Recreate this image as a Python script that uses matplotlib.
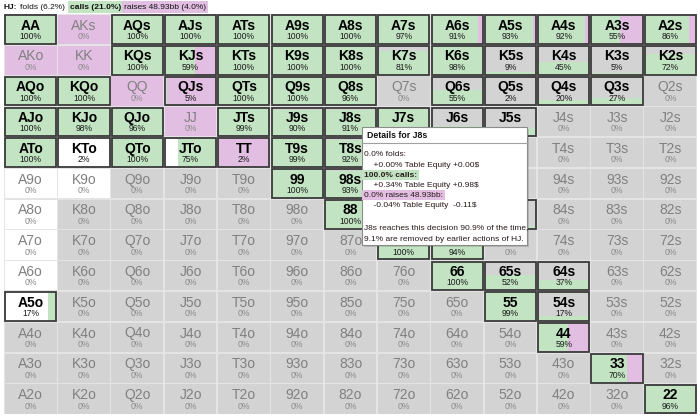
import matplotlib
matplotlib.use("Agg")
import matplotlib.pyplot as plt
from matplotlib.patches import Rectangle

plt.rcParams['font.family'] = ['Liberation Sans', 'DejaVu Sans']

ranks = list("AKQJT98765432")

# shown call percentage per hand (row = first rank, col = second rank)
call_pct = [
    [100, 0, 100, 100, 100, 100, 100, 97, 91, 93, 92, 55, 86],
    [0, 0, 100, 59, 100, 100, 100, 81, 98, 9, 45, 5, 72],
    [100, 100, 0, 5, 100, 100, 96, 0, 55, 2, 20, 27, 0],
    [100, 98, 96, 0, 99, 90, 91, 95, 37, 30, 0, 0, 0],
    [100, 2, 100, 75, 2, 99, 92, 85, 20, 0, 0, 0, 0],
    [0, 0, 0, 0, 0, 100, 93, 90, 30, 0, 0, 0, 0],
    [0, 0, 0, 0, 0, 0, 100, 95, 60, 10, 0, 0, 0],
    [0, 0, 0, 0, 0, 0, 0, 100, 94, 0, 0, 0, 0],
    [0, 0, 0, 0, 0, 0, 0, 0, 100, 52, 37, 0, 0],
    [17, 0, 0, 0, 0, 0, 0, 0, 0, 99, 17, 0, 0],
    [0, 0, 0, 0, 0, 0, 0, 0, 0, 0, 59, 0, 0],
    [0, 0, 0, 0, 0, 0, 0, 0, 0, 0, 0, 70, 0],
    [0, 0, 0, 0, 0, 0, 0, 0, 0, 0, 0, 0, 96],
]

# what the rest of the cell is: f = folds, r = raises, w = removed earlier
rest_kind = [
    "frffffffrrrrr",
    "rrfrfffffffff",
    "ffrrfffffffff",
    "fffrfffffffff",
    "fwfwrffffffff",
    "wwfffffffffff",
    "wffffffffffff",
    "wffffffffffff",
    "wffffffffffff",
    "wffffffffffff",
    "ffffffffffrff",
    "fffffffffffrf",
    "fffffffffffff",
]

header_parts = ["HJ:", "folds (6.2%)", "calls (21.0%)", "raises 48.93bb (4.0%)"]

tip_title = "Details for J8s"
tip_lines = [
    "0.0% folds:",
    "    +0.00% Table Equity +0.00$",
    "100.0% calls:",
    "    +0.34% Table Equity +0.98$",
    "0.0% raises 48.93bb:",
    "    -0.04% Table Equity  -0.11$",
    "",
    "J8s reaches this decision 90.9% of the time,",
    "9.1% are removed by earlier actions of HJ.",
]

GREEN = "#c2e4c2"
PINK = "#e2bfe2"
GREY = "#d3d3d3"
GAP = "#e4e4e4"
DARK = "#3a3a3a"

fig = plt.figure(figsize=(7, 4.17), dpi=100)
ax = fig.add_axes([0, 0, 1, 1])
ax.set_xlim(0, 700)
ax.set_ylim(417, 0)
ax.axis("off")

x_left, y_top = 4, 14
cw, ch = (697 - 4) / 13, (414.4 - 14) / 13

# tooltip box (pixels)
tx0, ty0, tx1, ty1 = 362, 127, 527, 245


def hidden(x, y):
    return tx0 - 2 < x < tx1 + 2 and ty0 - 3 < y < ty1 + 3


ax.add_patch(Rectangle((x_left, y_top), 13 * cw, 13 * ch, fc=GAP, ec="none"))


def hand_name(r, c):
    if r == c:
        return ranks[r] * 2
    if c > r:
        return ranks[r] + ranks[c] + "s"
    return ranks[c] + ranks[r] + "o"


for r in range(13):
    for c in range(13):
        p = call_pct[r][c] / 100
        kind = rest_kind[r][c]
        x0 = x_left + c * cw + 0.8
        y0 = y_top + r * ch + 0.8
        w = cw - 1.6
        h = ch - 1.6
        if kind == "f":
            ax.add_patch(Rectangle((x0, y0), w, h, fc=GREY, ec="none"))
            if p > 0:
                ax.add_patch(Rectangle((x0, y0 + h * (1 - p)), w, h * p,
                                       fc=GREEN, ec="none"))
        elif kind == "r":
            ax.add_patch(Rectangle((x0, y0), w, h, fc=PINK, ec="none"))
            if p > 0:
                ax.add_patch(Rectangle((x0, y0), w * p, h, fc=GREEN, ec="none"))
        else:
            ax.add_patch(Rectangle((x0, y0), w, h, fc="white", ec="none"))
            if p > 0:
                ax.add_patch(Rectangle((x0 + w * (1 - p), y0), w * p, h,
                                       fc=GREEN, ec="none"))
        active = p > 0
        if active:
            ax.add_patch(Rectangle((x0 + 0.3, y0 + 0.3), w - 0.6, h - 0.6,
                                   fc="none", ec=DARK, lw=1.3))
        cx = x0 + w / 2
        ly = y_top + r * ch + 11.5
        py = y_top + r * ch + 22.5
        if not hidden(cx, ly):
            ax.text(cx, ly, hand_name(r, c), ha="center", va="center",
                    fontsize=10, fontweight="bold" if active else "normal",
                    color="black" if active else "#808080")
        if not hidden(cx, py):
            ax.text(cx, py, f"{call_pct[r][c]}%", ha="center", va="center",
                    fontsize=6.2, color="#1a1a1a" if active else "#8a8a8a")

# header line
hx = [4, 20, 70, 124]
hfc = [None, None, GREEN, PINK]
hw = ["bold", "normal", "bold", "normal"]
for txt, x, fc, wgt in zip(header_parts, hx, hfc, hw):
    kw = {}
    if fc:
        kw["bbox"] = dict(boxstyle="square,pad=0.25", fc=fc, ec="none")
    ax.text(x, 7, txt, ha="left", va="center", fontsize=6, fontweight=wgt,
            color="#111111", **kw)

# tooltip
ax.add_patch(Rectangle((tx0 + 2, ty0 + 2), tx1 - tx0, ty1 - ty0,
                       fc="#00000022", ec="none", zorder=9))
ax.add_patch(Rectangle((tx0, ty0), tx1 - tx0, ty1 - ty0, fc="white",
                       ec="#8c8c8c", lw=0.8, zorder=10))
ax.plot([tx0, tx1], [ty0 + 16, ty0 + 16], color="#a0a0a0", lw=0.8, zorder=11)
ax.text(tx0 + 5, ty0 + 9, tip_title, ha="left", va="center", fontsize=6.3,
        fontweight="bold", color="#111111", zorder=12)
line_y = [155, 165, 175, 185, 195, 205.5, 216, 228, 239]
for txt, y in zip(tip_lines, line_y):
    if not txt:
        continue
    kw = {}
    wgt = "normal"
    if txt.startswith("100.0% calls"):
        kw["bbox"] = dict(boxstyle="square,pad=0.2", fc=GREEN, ec="none")
        wgt = "bold"
    elif "raises" in txt:
        kw["bbox"] = dict(boxstyle="square,pad=0.2", fc=PINK, ec="none")
    ax.text(tx0 + 2, y, txt, ha="left", va="center", fontsize=6,
            fontweight=wgt, color="#2a1a1a", zorder=12, **kw)

fig.savefig("out.png", dpi=100, facecolor="white")
